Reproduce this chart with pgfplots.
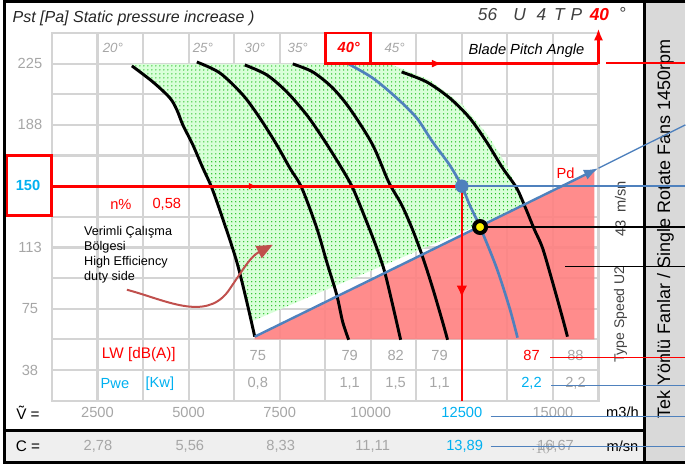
\documentclass[border=0pt]{standalone}
\usepackage{fontspec}
\setmainfont{Liberation Sans}
\usepackage{pgfplots}
\pgfplotsset{compat=1.18}
\usetikzlibrary{arrows.meta,patterns,decorations.markings}

\definecolor{gridgray}{HTML}{D4D4D4}
\definecolor{numgray}{HTML}{A6A6A6}
\definecolor{cyanblue}{HTML}{00B0F0}
\definecolor{lineblue}{HTML}{4F81BD}
\definecolor{brownred}{HTML}{C0504D}
\definecolor{panelgray}{HTML}{D9D9D9}
\definecolor{bandgray}{HTML}{EFEFEF}
\definecolor{darktxt}{HTML}{404040}

\newcommand\fs[1]{\fontsize{#1}{#1}\selectfont}

\begin{document}
\begin{tikzpicture}
% frame, side panel and the texts that the thin lines cross (1 px = 0.75pt, y down)
\begin{scope}[x=0.75pt,y=-0.75pt]
  \useasboundingbox (0,0) rectangle (686,466);
  \fill[panelgray] (645,1.5) rectangle (686,463);
  \fill[bandgray] (5,431) rectangle (645,463);
  \draw[line width=2.25pt] (686,1.5) -- (5,1.5) -- (5,463) -- (686,463);
  \draw[line width=2.25pt] (645,1.5) -- (645,463);
  \draw[line width=2.25pt] (5,431) -- (645,431);
  \node[rotate=90, font=\fs{13.5}] at (666,229) {Tek Yönlü Fanlar / Single Rotate Fans 1450rpm};
  \node[rotate=90, font=\fs{10.5}, text=darktxt] at (621,315) {Type Speed U2};
  \node[rotate=90, font=\fs{11}, text=darktxt] at (621,229) {43};
  \node[rotate=90, font=\fs{11}, text=darktxt] at (621,197) {m/sn};
  \node[font=\fs{11}] at (623,413) {m3/h};
  \node[font=\fs{11}] at (623,447) {m/sn};
  \node[font=\fs{11.5}] at (28,413) {\~{V} =};
  \node[font=\fs{11.5}] at (28,447) {C =};
  \foreach \xx/\cc in {98/{2,78},190/{5,56},281/{8,33},373/{11,11},556/{16,67}}
    \node[font=\fs{11}, text=numgray] at (\xx,447) {\cc};
  \node[font=\fs{11}, text=cyanblue] at (465,447) {13,89};
  \node[font=\fs{11}, text=numgray] at (576,356) {88};
  \node[font=\fs{11}, text=numgray] at (576,384) {2,2};
\end{scope}

\begin{axis}[
  at={(39pt,-300.75pt)}, anchor=south west,
  scale only axis, width=410.25pt, height=276pt,
  xmin=1250, xmax=16250, ymin=18.75, ymax=243.75,
  clip=false,
  xtick={1250,2500,...,16250},
  ytick={18.75,37.5,...,243.75},
  xticklabels={,2500,,5000,,7500,,10000,,\textcolor{cyanblue}{12500},,15000,},
  yticklabels={,38,,75,,113,,,,188,,225,},
  major tick length=0pt,
  grid=major,
  major grid style={draw=gridgray, line width=1.6pt},
  axis line style={draw=gridgray, line width=1.6pt},
  xticklabel style={font=\fs{11}, text=numgray, anchor=center, yshift=-9pt},
  yticklabel style={font=\fs{11}, text=numgray, anchor=center, xshift=-16.5pt},
]
% high efficiency zone
\addplot[draw=none, fill=green!15, postaction={pattern=dots, pattern color=green!70!black}]
  coordinates {(3444,224.8) (10518,224.8) (11615,215.0) (12520,199.7) (13205,181.4) (13726,163.0)
    (14083,144.7) (14192,138.0) (6707,67.0) (6597,79.3) (6323,103.7) (5966,128.2) (5637,149.0)
    (5390,161.2) (5116,175.3) (4842,187.5) (4678,196.7) (4486,204.0) (4019,213.8) (3444,223.6)} -- cycle;
% zone under Pd line
\addplot[draw=none, fill=red!50, fill opacity=0.9]
  coordinates {(6816,57.9) (16139,159.8) (16139,56.25) (6816,56.25)} -- cycle;

% blade pitch curves 20, 25, 30, 35, 45 deg
\addplot[black, line width=2.2pt, smooth] coordinates {(3444,223.6) (4019,213.8) (4486,204.0) (4678,196.7) (4842,187.5)
  (5116,175.3) (5390,161.2) (5637,149.0) (5966,128.2) (6323,103.7) (6597,79.3) (6816,57.9)};
\addplot[black, line width=2.2pt, smooth] coordinates {(5226,226.0) (5857,219.3) (6487,205.9) (6953,191.8)
  (7420,175.3) (7776,161.2) (8105,149.0) (8516,124.5) (8791,103.7) (9065,83.6) (9229,67.0) (9394,56.0)};
\addplot[black, line width=2.2pt, smooth] coordinates {(6542,224.2) (7145,218.1) (7694,207.7) (8242,193.6)
  (8681,179.5) (9147,163.0) (9503,149.0) (9887,128.2) (10162,112.3) (10381,97.6) (10600,77.4) (10820,56.0)};
\addplot[black, line width=2.2pt, smooth] coordinates {(7858,224.8) (8407,219.9) (8955,210.1) (9449,196.7)
  (10052,175.3) (10491,152.6) (10847,138.6) (11149,123.3) (11423,106.8) (11697,87.8) (11971,67.0) (12108,56.0)};
\addplot[black, line width=2.2pt, smooth] coordinates {(10847,219.9) (11533,213.8) (12163,204.0) (12712,191.8)
  (13178,177.1) (13616,161.2) (14000,149.0) (14247,136.7) (14494,123.3) (14713,112.3) (14987,91.5) (15262,69.5) (15399,57.9)};
% 40 deg, selected
\addplot[lineblue, line width=2pt, smooth] coordinates {(9339,225.4) (10052,216.2) (10710,204.0) (11258,191.8)
  (11697,177.1) (12163,163.0) (12500,150) (12712,138.6) (13000,125) (13452,100.1) (13808,75.6) (14028,57.3)};

% Pd line
\addplot[lineblue, line width=1.8pt, -{Latex[length=11pt,width=8pt]}] coordinates {(6816,57.9) (16250,161.0)};
\addplot[lineblue, line width=1pt] coordinates {(16250,161.0) (18634,187.5)};

% duty point lines
\addplot[red, line width=2.2pt, postaction={decorate},
  decoration={markings, mark=at position 0.5 with {\arrow{Latex[length=6pt,width=5pt]}}}]
  coordinates {(1250,150) (12500,150)};
\addplot[red, line width=2pt, postaction={decorate},
  decoration={markings, mark=at position 0.52 with {\arrow{Latex[length=9pt,width=8pt]}}}]
  coordinates {(12500,150) (12500,18.75)};
\addplot[red, line width=2pt] coordinates {(10000,225) (8750,225) (8750,243.75) (10000,243.75) (10000,225)};
\addplot[red, line width=2pt, postaction={decorate},
  decoration={markings, mark=at position 0.315 with {\arrow{Latex[length=8pt,width=6pt]}}}]
  coordinates {(10000,225) (16250,225)};
\addplot[red, line width=2pt, -{Latex[length=9pt,width=7pt]}] coordinates {(16250,225) (16250,246.5)};

% leader lines to the right edge
\addplot[lineblue, line width=1pt] coordinates {(12500,150) (18634,150)};
\addplot[black, line width=1pt] coordinates {(13000,125) (18634,125)};
\addplot[black, line width=1pt] coordinates {(15343,100.7) (18634,100.7)};
\addplot[red, line width=1pt] coordinates {(16468,225.4) (18634,225.4)};
\addplot[red, line width=1pt] coordinates {(14933,45) (18634,45)};
\addplot[lineblue, line width=1pt] coordinates {(14960,27.9) (18634,27.9)};
\addplot[lineblue, line width=1pt] coordinates {(13287,9) (18634,9)};
\addplot[lineblue, line width=1pt] coordinates {(13287,-9.4) (18634,-9.4)};

% points
\addplot[only marks, mark=*, mark size=4.8pt, mark options={fill=lineblue, draw=lineblue}] coordinates {(12500,150)};
\addplot[only marks, mark=*, mark size=4.5pt, mark options={fill=yellow, draw=black, line width=3pt}] coordinates {(13000,125)};
\end{axis}

% texts on top
\begin{scope}[x=0.75pt,y=-0.75pt]
  \node[anchor=west, font=\fs{12}\itshape, text=black!85] at (8,18) {Pst [Pa] Static pressure increase )};
  \node[font=\fs{13}\itshape, text=darktxt] at (488,15) {56};
  \node[font=\fs{13}\itshape, text=darktxt] at (520,15) {U};
  \node[font=\fs{13}\itshape, text=darktxt] at (542,15) {4};
  \node[font=\fs{13}\itshape, text=darktxt] at (560,15) {T};
  \node[font=\fs{13}\itshape, text=darktxt] at (577,15) {P};
  \node[font=\fs{13}\bfseries\itshape, text=red] at (600,15) {40};
  \node[font=\fs{13}\itshape, text=darktxt] at (623,13) {°};
  \foreach \xx/\aa in {113/20,203/25,255/30,298/35,395/45}
    \node[font=\fs{10}\itshape, text=numgray] at (\xx,48) {\aa°};
  \node[font=\fs{11}\bfseries\itshape, text=red] at (349,48) {40°};
  \node[font=\fs{11}\itshape] at (527,51) {Blade Pitch Angle};
  \draw[red, line width=2.2pt] (7,156) rectangle (52,216);
  \node[font=\fs{11}\bfseries, text=cyanblue] at (28,186) {150};
  \node[font=\fs{11}, text=red] at (121,205) {n\%};
  \node[font=\fs{11}, text=red] at (167,205) {0,58};
  \node[anchor=north west, align=left, inner sep=0pt, font=\fontsize{9.5}{11.25}\selectfont] at (84,226)
    {Verimli Çalışma\\Bölgesi\\High Efficiency\\duty side};
  \draw[brownred, line width=1.5pt, -{Triangle[length=12pt,width=10pt]}]
    (127,290) .. controls (165,300) and (205,322) .. (228,292) .. controls (240,275) and (250,257) .. (273,245);
  \node[font=\fs{11}, text=red] at (566,173) {Pd};
  \node[font=\fs{11.5}, text=red] at (139,355) {LW [dB(A)]};
  \node[font=\fs{11}, text=cyanblue] at (115,384) {Pwe};
  \node[font=\fs{11}, text=cyanblue] at (160,384) {[Kw]};
  \foreach \xx/\vv in {258/75,350/79,396/82,440/79}
    \node[font=\fs{11}, text=numgray] at (\xx,356) {\vv};
  \node[font=\fs{11}, text=red] at (532,356) {87};
  \foreach \xx/\vv in {258/{0,8},350/{1,1},396/{1,5},440/{1,1}}
    \node[font=\fs{11}, text=numgray] at (\xx,384) {\vv};
  \node[font=\fs{11}, text=cyanblue] at (532,384) {2,2};
\end{scope}
\end{tikzpicture}
\end{document}
